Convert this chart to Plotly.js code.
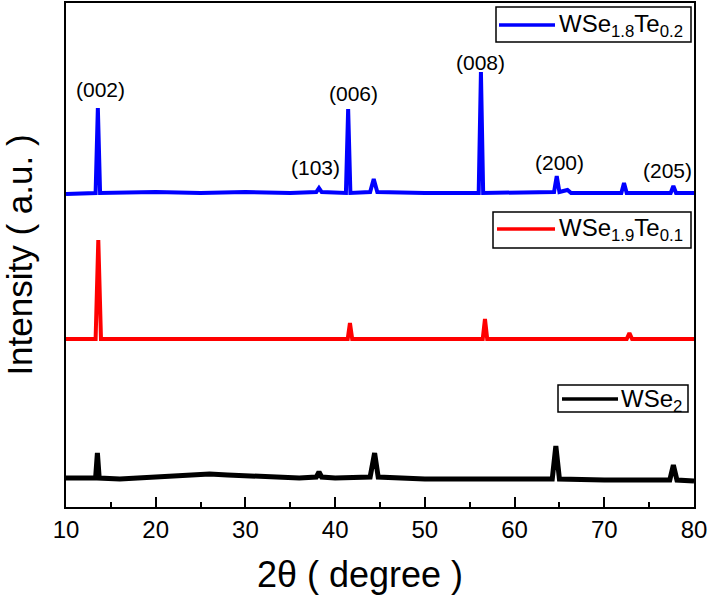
<!DOCTYPE html>
<html>
<head>
<meta charset="utf-8">
<script src="https://cdn.plot.ly/plotly-3.0.1.min.js"></script>
<style>html,body{margin:0;padding:0;background:#fff}#chart{width:709px;height:596px}</style>
</head>
<body>
<div id="chart"></div>
<script>
// 2θ (degree) and offset intensity (a.u.)
const blueX = [10, 12, 13.3, 13.55, 13.8, 20, 25, 30, 35, 37.9, 38.2, 38.5, 41.2, 41.45, 41.7, 43.9, 44.3, 44.7, 50, 56.0, 56.25, 56.5, 60, 64.4, 64.7, 65.0, 65.9, 66.3, 71.9, 72.2, 72.5, 77.4, 77.7, 78.0, 80];
const blueY = [313, 314, 314, 399, 314, 315, 314, 315, 314, 315, 319, 315, 314, 398, 314, 315, 328, 315, 314, 314, 435, 314, 314, 315, 331, 315, 317, 314, 314, 324, 314, 314, 321, 314, 314];

const redX = [10, 13.3, 13.6, 13.9, 20, 30, 41.4, 41.65, 41.9, 50, 56.45, 56.7, 56.95, 65, 72.5, 72.8, 73.1, 80];
const redY = [168, 168, 267, 168, 168, 168, 168, 184, 168, 168, 168, 188, 168, 168, 168, 174, 168, 168];

const blackX = [10, 13.3, 13.5, 13.7, 16, 20, 23, 26, 28, 32, 36, 37.9, 38.2, 38.5, 40, 43.9, 44.4, 44.8, 50, 55, 60, 64.2, 64.6, 65.0, 70, 77.3, 77.7, 78.1, 80];
const blackY = [29, 29, 54, 29, 28, 30, 32, 33, 32, 30, 29, 30, 35, 30, 29, 30, 54, 30, 28, 28, 28, 28, 61, 28, 27, 27, 42, 27, 26];

const seriesNames = ['WSe<sub>1.8</sub>Te<sub>0.2</sub>', 'WSe<sub>1.9</sub>Te<sub>0.1</sub>', 'WSe<sub>2</sub>'];
const hklLabels = ['(002)', '(103)', '(006)', '(008)', '(200)', '(205)'];
const xTickVals = [10, 20, 30, 40, 50, 60, 70, 80];

const FONT = 'Liberation Sans, Arial, Helvetica, sans-serif';
const colors = ['#0000ff', '#ff0000', '#000000'];

const traces = [
  {x: blueX, y: blueY, name: seriesNames[0], type: 'scatter', mode: 'lines', line: {color: colors[0], width: 4}},
  {x: redX, y: redY, name: seriesNames[1], type: 'scatter', mode: 'lines', line: {color: colors[1], width: 4}},
  {x: blackX, y: blackY, name: seriesNames[2], type: 'scatter', mode: 'lines', line: {color: colors[2], width: 5}}
];

// plot area in px: x 66..694, y 3..507
const L = 66, R = 694, T = 3, B = 507;
const px = v => (v - L) / (R - L);
const py = v => (B - v) / (B - T);

const hklPos = [[13.8, 418], [37.76, 340], [41.99, 414], [56.15, 445], [64.96, 345], [76.99, 337]];
const annotations = hklLabels.map((t, i) => ({
  text: t, x: hklPos[i][0], y: hklPos[i][1], xref: 'x', yref: 'y',
  showarrow: false, font: {family: FONT, size: 21, color: '#000'}, xanchor: 'center', yanchor: 'middle'
}));

const legendBoxes = [
  {box: [496, 691, 7, 42], line: [499, 555], ly: 25, tx: 557},
  {box: [493, 691, 212, 248], line: [497, 555], ly: 229, tx: 557},
  {box: [558, 688, 385, 412], line: [562, 618], ly: 399, tx: 619}
];
const shapes = [];
legendBoxes.forEach((lb, i) => {
  shapes.push({type: 'rect', xref: 'paper', yref: 'paper', x0: px(lb.box[0]), x1: px(lb.box[1]), y0: py(lb.box[3]), y1: py(lb.box[2]),
    line: {color: '#000', width: 1.5}, fillcolor: '#fff'});
  shapes.push({type: 'line', xref: 'paper', yref: 'paper', x0: px(lb.line[0]), x1: px(lb.line[1]), y0: py(lb.ly), y1: py(lb.ly),
    line: {color: colors[i], width: 3.5}});
  annotations.push({text: seriesNames[i], xref: 'paper', yref: 'paper', x: px(lb.tx), y: py(lb.ly + 1),
    xanchor: 'left', yanchor: 'middle', showarrow: false, font: {family: FONT, size: 24, color: '#000'}});
});

const layout = {
  width: 709, height: 596,
  margin: {l: L, r: 709 - R, t: T, b: 596 - B},
  paper_bgcolor: '#fff', plot_bgcolor: '#fff',
  showlegend: false,
  font: {family: FONT, color: '#000'},
  xaxis: {
    range: [10, 80], tickvals: xTickVals, ticktext: xTickVals.map(String),
    ticks: 'inside', ticklen: 10, tickwidth: 2, tickcolor: '#000',
    minor: {tickvals: [15, 25, 35, 45, 55, 65, 75], ticks: 'inside', ticklen: 5, tickwidth: 2, tickcolor: '#000'},
    showline: true, linewidth: 2, linecolor: '#000', mirror: true,
    showgrid: false, zeroline: false,
    tickfont: {family: FONT, size: 24, color: '#000'},
    title: {text: '2θ ( degree )&nbsp;&nbsp;&nbsp;&nbsp;', font: {family: FONT, size: 36, color: '#000'}, standoff: 20},
    automargin: false
  },
  yaxis: {
    range: [0, 504], showticklabels: false, ticks: '',
    showline: true, linewidth: 2, linecolor: '#000', mirror: true,
    showgrid: false, zeroline: false,
    title: {text: 'Intensity ( a.u. )', font: {family: FONT, size: 35, color: '#000'}, standoff: 26},
    automargin: false
  },
  shapes: shapes,
  annotations: annotations
};

Plotly.newPlot('chart', traces, layout, {displayModeBar: false, staticPlot: true});
</script>
</body>
</html>
